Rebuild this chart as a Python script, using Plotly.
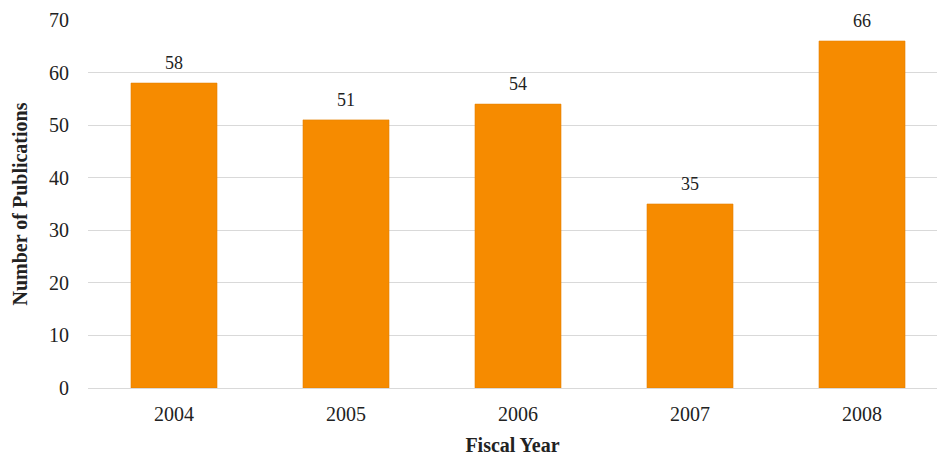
import plotly.graph_objects as go

# Publications per fiscal year
years = ["2004", "2005", "2006", "2007", "2008"]
publications = [58, 51, 54, 35, 66]
y_ticks = [0, 10, 20, 30, 40, 50, 60, 70]

FONT = "Liberation Serif, Times New Roman, serif"
TEXT = "#222222"
BAR_COLOR = "#F68B00"

fig = go.Figure(
    go.Bar(
        x=years,
        y=publications,
        width=0.5,
        marker=dict(color=BAR_COLOR, line=dict(color="#E58200", width=0.6)),
        hoverinfo="x+y",
    )
)

# value labels sitting above each bar (category index used as position,
# since year-like strings would be read as numbers by the annotation layer)
for idx, val in enumerate(publications):
    fig.add_annotation(
        x=idx, y=val, xref="x", yref="y", text=str(val), showarrow=False,
        yanchor="bottom", yshift=8,
        font=dict(family=FONT, size=18, color=TEXT),
    )

fig.update_layout(
    width=937,
    height=456,
    margin=dict(l=88, r=0, t=20, b=68),
    paper_bgcolor="white",
    plot_bgcolor="white",
    showlegend=False,
    font=dict(family=FONT, size=18, color=TEXT),
    xaxis=dict(
        type="category",
        range=[-0.5, 4.436],
        showgrid=False,
        showline=False,
        ticks="",
        ticklabelstandoff=12,
        tickfont=dict(family=FONT, size=20, color=TEXT),
        title=dict(text="<b>Fiscal Year</b>", font=dict(family=FONT, size=20, color=TEXT), standoff=14),
    ),
    yaxis=dict(
        range=[0, 70],
        tickvals=y_ticks,
        showgrid=True,
        gridcolor="#D9D9D9",
        gridwidth=1.3,
        zeroline=True,
        zerolinecolor="#D9D9D9",
        zerolinewidth=1.3,
        showline=False,
        ticks="",
        ticklabelstandoff=18,
        tickfont=dict(family=FONT, size=20, color=TEXT),
        title=dict(text="<b>Number of Publications</b>", font=dict(family=FONT, size=20, color=TEXT), standoff=16),
    ),
)

fig.write_html("out.html")
